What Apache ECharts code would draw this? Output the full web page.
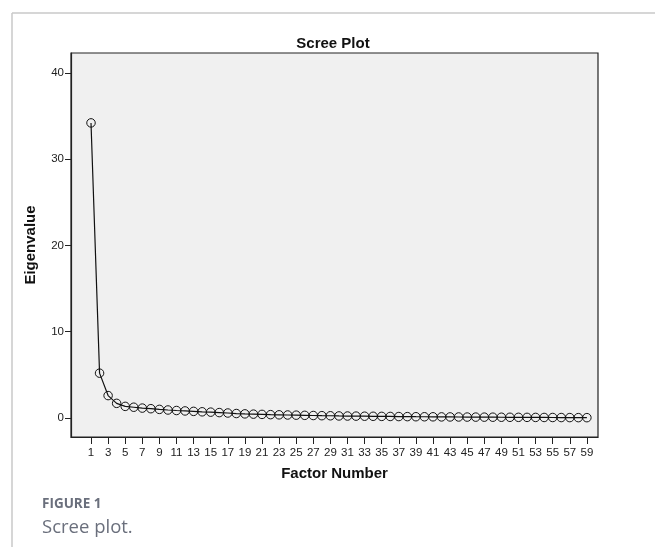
<!DOCTYPE html>
<html><head><meta charset="utf-8">
<script src="https://cdn.jsdelivr.net/npm/echarts@6/dist/echarts.min.js"></script>
<style>html,body{margin:0;padding:0;background:#fff}#c{width:655px;height:547px}</style>
</head><body><div id="c"></div>
<script>
var factors = [];
for (var i = 1; i <= 59; i++) factors.push(i);
var eigenvalues = [34.2, 5.2, 2.6, 1.7, 1.35, 1.25, 1.15, 1.08, 1.0, 0.93,
  0.87, 0.82, 0.77, 0.72, 0.68, 0.63, 0.58, 0.52, 0.48, 0.45,
  0.42, 0.39, 0.37, 0.35, 0.33, 0.31, 0.29, 0.27, 0.26, 0.24,
  0.23, 0.22, 0.21, 0.2, 0.19, 0.18, 0.17, 0.16, 0.15, 0.145,
  0.14, 0.13, 0.125, 0.12, 0.11, 0.105, 0.1, 0.095, 0.09, 0.085,
  0.08, 0.075, 0.07, 0.065, 0.06, 0.055, 0.05, 0.045, 0.04];
var xTickLabels = [1,3,5,7,9,11,13,15,17,19,21,23,25,27,29,31,33,35,37,39,41,43,45,47,49,51,53,55,57,59];
var yTickLabels = [0,10,20,30,40];

var data = factors.map(function(f, i){ return [f, eigenvalues[i]]; });
var chart = echarts.init(document.getElementById('c'), null, {renderer:'canvas'});
var axisFont = {fontFamily:'Liberation Sans, Arial, sans-serif', fontSize:11.5, color:'#222'};
var nameFont = {fontFamily:'Liberation Sans, Arial, sans-serif', fontSize:15, fontWeight:'bold', color:'#111'};
chart.setOption({
  animation:false,
  backgroundColor:'#fff',
  title:{text:'Scree Plot', left:328, top:31, textAlign:'center', textStyle:nameFont},
  grid:{left:71, top:53, right:57, bottom:110, show:true, backgroundColor:'#f0f0f0', borderColor:'#222', borderWidth:1.2},
  xAxis:{type:'value', min:-1.34, max:60.3,
    name:'Factor Number', nameLocation:'middle', nameGap:29, nameTextStyle:nameFont,
    axisLine:{show:true, onZero:false, lineStyle:{color:'#222', width:1.2}},
    axisTick:{show:true, inside:false, length:7, customValues:xTickLabels, lineStyle:{color:'#222'}},
    axisLabel:Object.assign({customValues:xTickLabels, margin:10}, axisFont),
    splitLine:{show:false}},
  yAxis:{type:'value', min:-2.2, max:42.3,
    name:'Eigenvalue', nameLocation:'middle', nameGap:33, nameRotate:90, nameTextStyle:nameFont,
    axisLine:{show:true, onZero:false, lineStyle:{color:'#222', width:1.2}},
    axisTick:{show:true, inside:false, length:6, customValues:yTickLabels, lineStyle:{color:'#222'}},
    axisLabel:Object.assign({customValues:yTickLabels, margin:7}, axisFont),
    splitLine:{show:false}},
  series:[{type:'line', data:data, symbol:'circle', symbolSize:8.5,
    lineStyle:{color:'#111', width:1.2},
    itemStyle:{color:'rgba(0,0,0,0)', borderColor:'#111', borderWidth:1}}],
  graphic:[
    {type:'line', shape:{x1:12, y1:13, x2:655, y2:13}, style:{stroke:'#c8c8c8', lineWidth:1.5}},
    {type:'line', shape:{x1:12, y1:13, x2:12, y2:547}, style:{stroke:'#c8c8c8', lineWidth:1.5}},
    {type:'text', left:42, top:497, style:{text:'FIGURE 1', font:'bold 13.5px "Open Sans", sans-serif', fill:'#6a6f7c'}},
    {type:'text', left:42, top:518, style:{text:'Scree plot.', font:'18.5px "Open Sans", sans-serif', fill:'#6a6f7c'}}
  ]
});
</script></body></html>
